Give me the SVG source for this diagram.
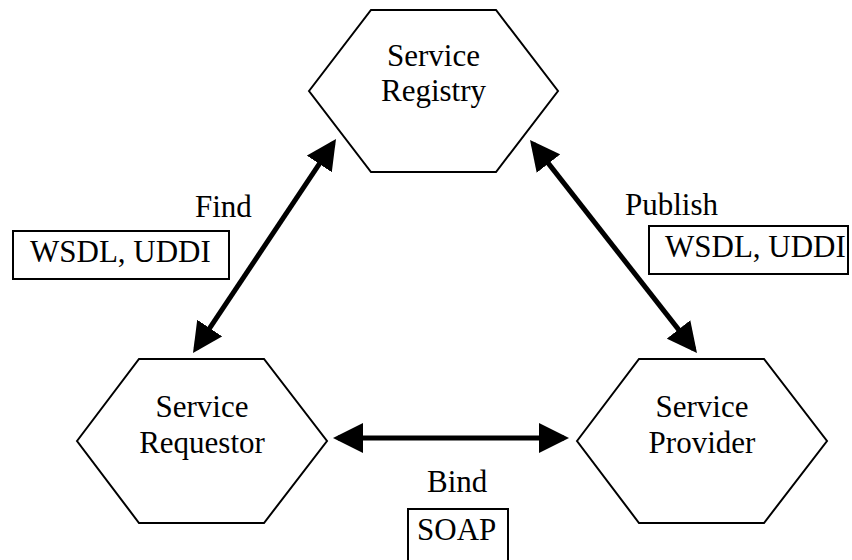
<svg xmlns="http://www.w3.org/2000/svg" width="852" height="560" viewBox="0 0 852 560">
<style>
  .hex { fill: #fff; stroke: #000; stroke-width: 2; }
  .box { fill: #fff; stroke: #000; stroke-width: 2; }
  text { font-family: "Liberation Serif", "Times New Roman", serif; font-size: 31px; fill: #000; }
  .c { text-anchor: middle; }
  .conn { stroke: #000; stroke-width: 5; fill: none; marker-start: url(#ah); marker-end: url(#ah); }
</style>
<defs>
  <marker id="ah" markerUnits="userSpaceOnUse" markerWidth="30" markerHeight="30" refX="25" refY="15" orient="auto-start-reverse" viewBox="0 0 30 30">
    <path d="M0,0 L30,15 L0,30 z" fill="#000"/>
  </marker>
</defs>
<rect width="852" height="560" fill="#fff"/>
<g id="connectors">
  <line class="conn" x1="333.2" y1="143.2" x2="195.8" y2="348.8"/>
  <line class="conn" x1="533.1" y1="143.9" x2="693.9" y2="349.1"/>
  <line class="conn" x1="338" y1="438" x2="564" y2="438"/>
</g>
<g id="registry">
  <polygon class="hex" points="309,91 371,10 496,10 558,91 496,172 371,172"/>
  <text class="c" x="433.5" y="66">Service</text>
  <text class="c" x="433.5" y="101">Registry</text>
</g>
<g id="requestor">
  <polygon class="hex" points="77,441 139,359 264,359 327,441 264,523 139,523"/>
  <text class="c" x="202" y="417">Service</text>
  <text class="c" x="202" y="453">Requestor</text>
</g>
<g id="provider">
  <polygon class="hex" points="577,441 639,359 764,359 827,441 764,523 639,523"/>
  <text class="c" x="702" y="417">Service</text>
  <text class="c" x="702" y="453">Provider</text>
</g>
<g id="find-label">
  <text x="195" y="217">Find</text>
  <rect class="box" x="13" y="231" width="216" height="48"/>
  <text x="30" y="262">WSDL, UDDI</text>
</g>
<g id="publish-label">
  <text x="625" y="215">Publish</text>
  <rect class="box" x="649" y="226" width="199" height="48"/>
  <text x="665" y="257">WSDL, UDDI</text>
</g>
<g id="bind-label">
  <text x="427" y="492">Bind</text>
  <rect class="box" x="408" y="509" width="100" height="60"/>
  <text x="417" y="540">SOAP</text>
</g>
</svg>
